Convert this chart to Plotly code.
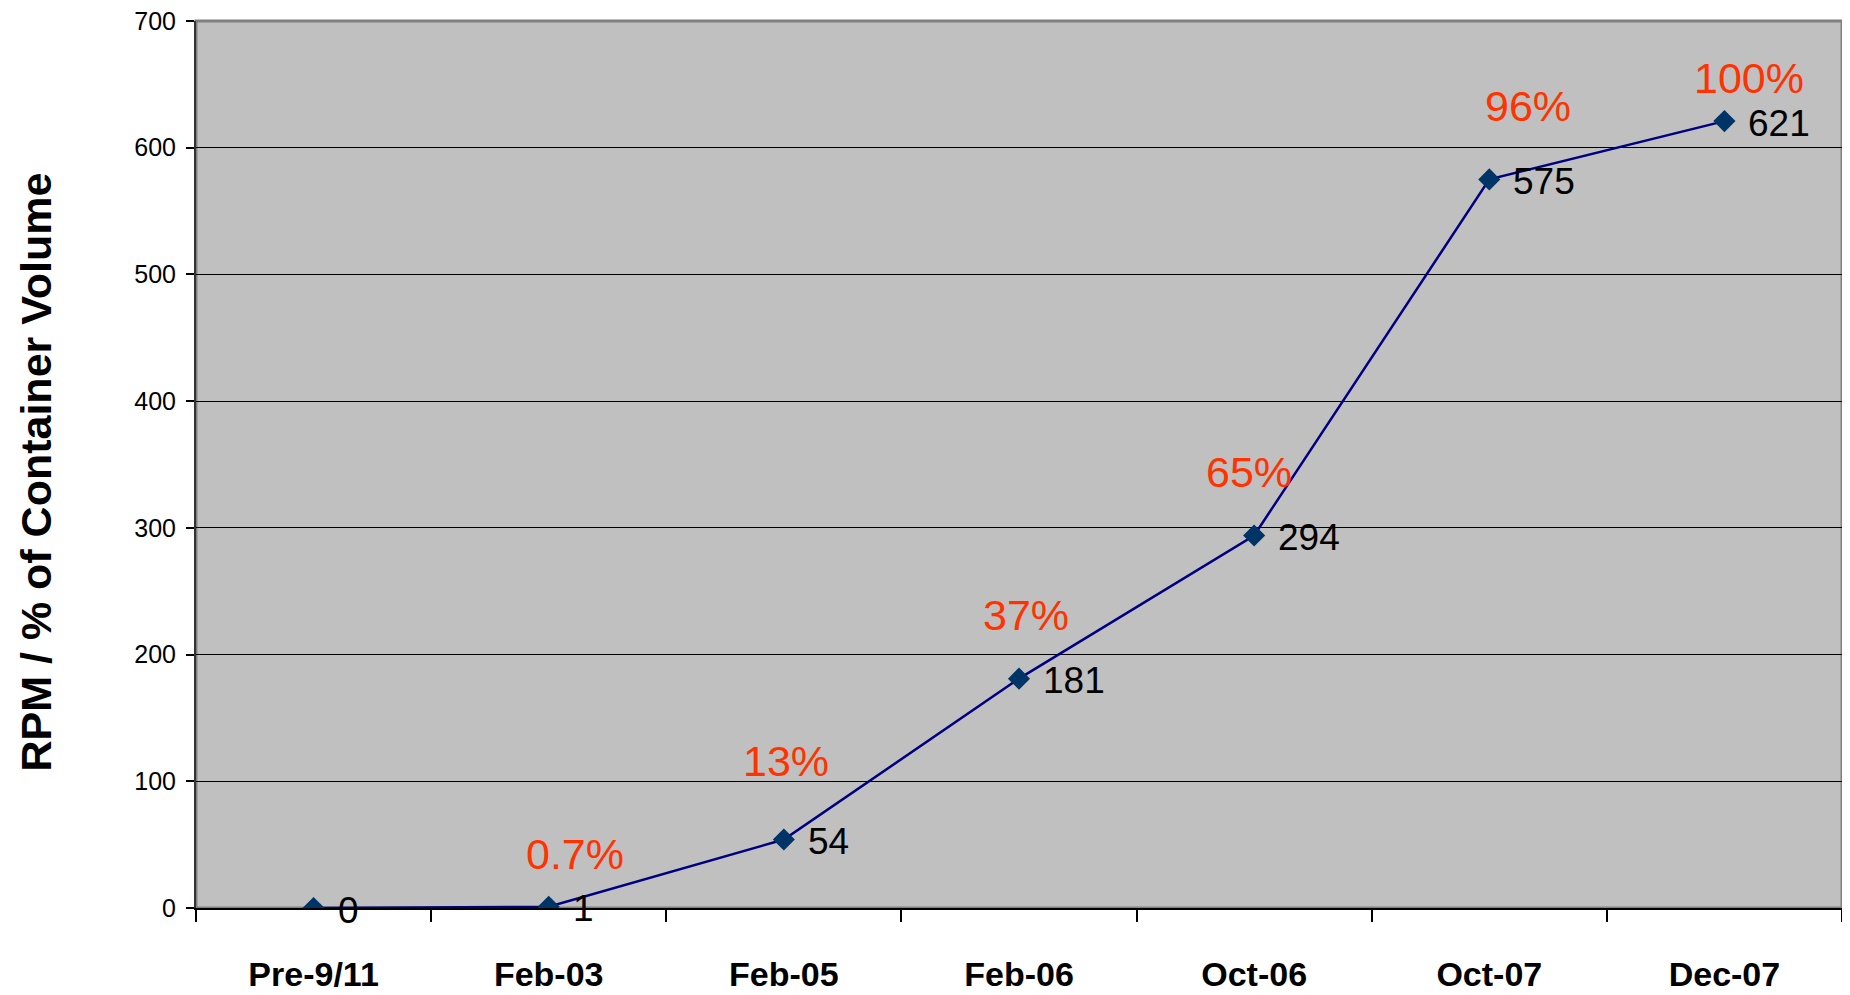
import plotly.graph_objects as go

categories = ["Pre-9/11", "Feb-03", "Feb-05", "Feb-06", "Oct-06", "Oct-07", "Dec-07"]
rpm_values = [0, 1, 54, 181, 294, 575, 621]
value_labels = ["0", "1", "54", "181", "294", "575", "621"]
pct_labels = [None, "0.7%", "13%", "37%", "65%", "96%", "100%"]
y_ticks = [0, 100, 200, 300, 400, 500, 600, 700]

# label placement offsets (pixels) for the percentage labels
pct_dx = [0, 26, 2, 7, -5, 39, 25]
pct_dy = [0, 53, 79, 64, 63, 73, 43]

FONT = "Liberation Sans, Arial, sans-serif"

fig = go.Figure()
fig.add_trace(go.Scatter(
    x=categories, y=rpm_values, mode="lines+markers",
    line=dict(color="#000080", width=2.5),
    marker=dict(symbol="diamond", size=17, color="#003366"),
    hoverinfo="skip", showlegend=False,
))

annotations = []
for c, v, t in zip(categories, rpm_values, value_labels):
    annotations.append(dict(
        x=c, y=v, xref="x", yref="y", text=t, showarrow=False,
        xanchor="left", yanchor="middle", xshift=22, yshift=-2,
        font=dict(family=FONT, size=37, color="#000000"),
    ))
for c, v, t, dx, dy in zip(categories, rpm_values, pct_labels, pct_dx, pct_dy):
    if t is None:
        continue
    annotations.append(dict(
        x=c, y=v, xref="x", yref="y", text=t, showarrow=False,
        xanchor="center", yanchor="middle", xshift=dx, yshift=dy,
        font=dict(family=FONT, size=43, color="#FF3300"),
    ))
annotations.append(dict(
    x=0, y=0.5, xref="paper", yref="paper", text="<b>RPM / % of Container Volume</b>",
    showarrow=False, textangle=-90, xanchor="center", yanchor="middle",
    xshift=-161, yshift=-8,
    font=dict(family=FONT, size=43, color="#000000"),
))

fig.update_layout(
    width=1850, height=995,
    margin=dict(l=188, r=16, t=13, b=95, autoexpand=False),
    paper_bgcolor="#FFFFFF", plot_bgcolor="#C0C0C0",
    annotations=annotations,
    shapes=[dict(type="rect", xref="x domain", yref="y domain", x0=0, x1=1, y0=0, y1=1,
                 line=dict(color="#808080", width=3), layer="below")],
)
fig.update_xaxes(
    type="category", range=[-0.5, 6.5], automargin=False,
    tickson="boundaries", ticks="outside", ticklen=12, tickcolor="#000000", tickwidth=1.5,
    showline=True, linecolor="#000000", linewidth=2, showgrid=False, zeroline=False,
    tickfont=dict(family=FONT, size=34, color="#000000", weight="bold"),
    ticklabelstandoff=35,
)
fig.update_yaxes(
    range=[0, 700], tickvals=y_ticks, ticktext=[str(t) for t in y_ticks], automargin=False,
    ticks="outside", ticklen=8, tickcolor="#000000", tickwidth=1.5,
    showline=True, linecolor="#333333", linewidth=2,
    showgrid=True, gridcolor="#000000", gridwidth=1.2, zeroline=False,
    tickfont=dict(family=FONT, size=25, color="#000000"),
    ticklabelstandoff=5, ticklabeloverflow="allow",
)

fig.write_html("out.html")
